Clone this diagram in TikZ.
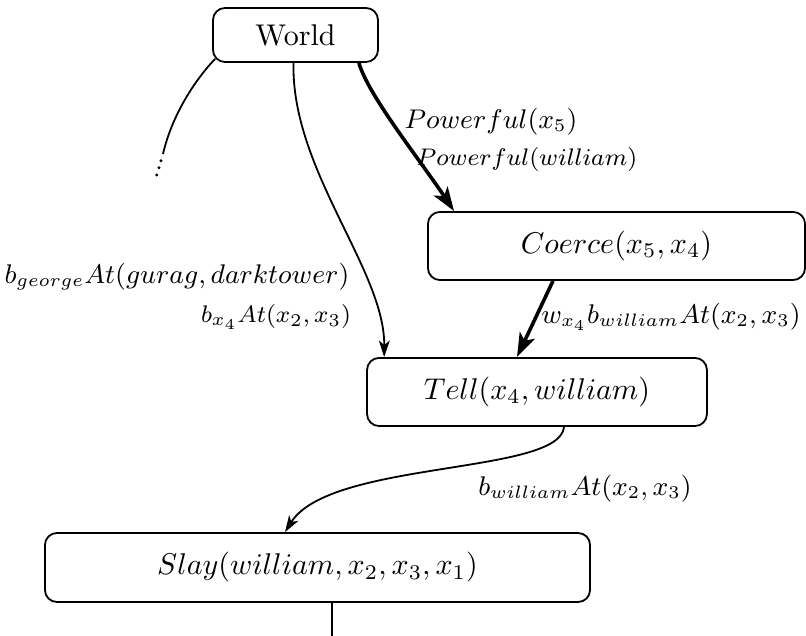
\documentclass[tikz,border=0pt]{standalone}
\usetikzlibrary{arrows.meta}
\begin{document}
\begin{tikzpicture}[x=0.33333pt,y=-0.33333pt,
  box/.style={draw, rectangle, rounded corners=4pt, semithick, inner sep=0pt},
  thinarrow/.style={semithick, -{Stealth[length=5.5pt,width=3.6pt,inset=1.5pt]}},
  thickarrow/.style={very thick, -{Stealth[length=8pt,width=5.5pt,inset=2pt]}},
  plainline/.style={semithick},
  biglbl/.style={font=\small, inner sep=0pt},
  smalllbl/.style={font=\footnotesize, inner sep=0pt},
  dotmark/.style={circle, fill, inner sep=0pt, minimum size=1.1pt}]
\useasboundingbox (0,0) rectangle (806,636);

% boxes
\node[box, minimum width=55pt, minimum height=18pt] (world) at (295.5,35) {World};
\node[box, minimum width=125.7pt, minimum height=22.7pt] (coerce) at (616.5,246) {$Coerce(x_5,x_4)$};
\node[box, minimum width=113.3pt, minimum height=22.7pt] (tell) at (537,392) {$Tell(x_4,william)$};
\node[box, minimum width=181.7pt, minimum height=23pt] (slay) at (317.5,567.5) {$Slay(william,x_2,x_3,x_1)$};

% dots
\coordinate (dotstop) at (163,154);
\node[dotmark] (d1) at (161,160.7) {};
\node[dotmark] (d2) at (159,167.8) {};
\node[dotmark] (d3) at (156.8,175) {};
\coordinate (bottomend) at (332,640);

% connectors
\draw[plainline] ([shift={(3,-4)}]world.south west) .. controls (195,80) and (172,115) .. (dotstop);
\draw[thinarrow] ([shift={(-2,0)}]world.south) .. controls (291,170) and (385,270) .. ([shift={(18,0)}]tell.north west);
\draw[thickarrow] ([shift={(-20,0)}]world.south east) .. controls (368,95) and (420,160) .. ([shift={(27,0)}]coerce.north west);
\draw[thickarrow] ([shift={(-63.5,0)}]coerce.south) -- ([shift={(-20,0)}]tell.north);
\draw[thinarrow] ([shift={(27,0)}]tell.south) .. controls (560,475) and (330,460) .. ([shift={(-32.5,0)}]slay.north);
\draw[plainline] ([shift={(14.5,0)}]slay.south) -- (bottomend);

% labels
\node[biglbl] (lgeorge) at (177,277) {$b_{george}At(gurag,darktower)$};
\node[smalllbl] (lbx) at (276,317) {$b_{x_4}At(x_2,x_3)$};
\node[biglbl] (lpow) at (491,122) {$Powerful(x_5)$};
\node[smalllbl] (lpoww) at (527,160) {$Powerful(william)$};
\node[biglbl] (lw) at (671,317) {$w_{x_4}b_{william}At(x_2,x_3)$};
\node[biglbl] (lb) at (585,489) {$b_{william}At(x_2,x_3)$};
\end{tikzpicture}
\end{document}
